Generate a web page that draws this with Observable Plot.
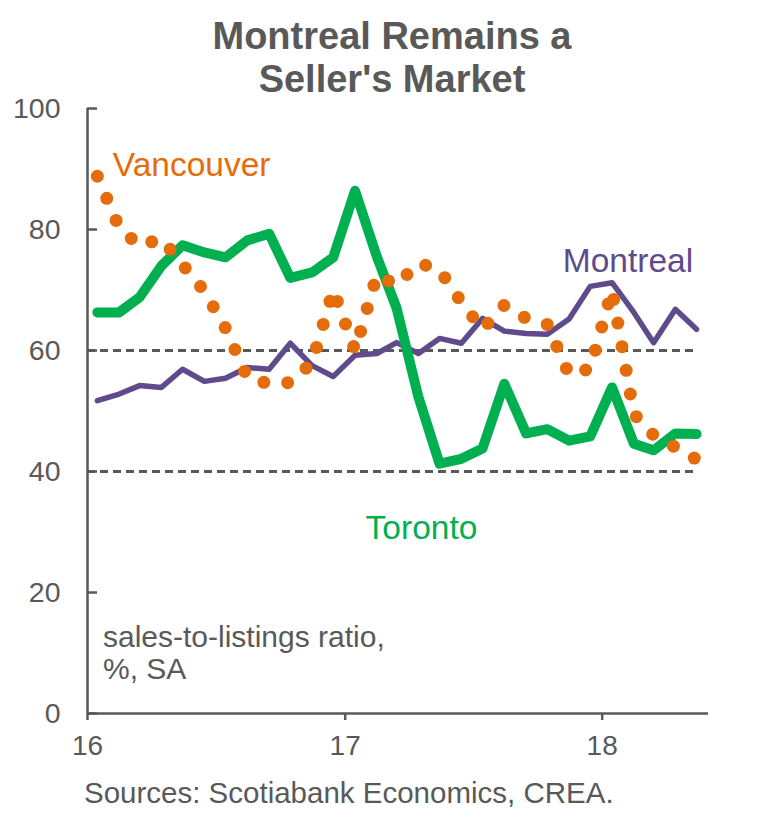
<!DOCTYPE html>
<html>
<head>
<meta charset="utf-8">
<script src="https://cdn.jsdelivr.net/npm/d3@7"></script>
<script src="https://cdn.jsdelivr.net/npm/@observablehq/plot@0.6"></script>
<style>
  html, body { margin: 0; padding: 0; background: #fff; }
  #wrap { position: relative; width: 780px; height: 815px; font-family: "Liberation Sans", Arial, sans-serif; color: #595959; }
  #chart { position: absolute; left: 0; top: 0; }
  #title { position: absolute; left: 0; top: 15px; width: 784px; text-align: center; font-weight: bold; font-size: 38px; line-height: 43px; }
  #note { position: absolute; left: 103px; top: 621px; font-size: 30px; line-height: 32px; }
  #source { position: absolute; left: 84px; top: 777px; font-size: 29.5px; line-height: 32px; }
</style>
</head>
<body>
<div id="wrap">
  <div id="chart"></div>
  <div id="title">Montreal Remains a<br>Seller's Market</div>
  <div id="note">sales-to-listings ratio,<br>%, SA</div>
  <div id="source">Sources: Scotiabank Economics, CREA.</div>
</div>
<script>
const months = ["2016-01","2016-02","2016-03","2016-04","2016-05","2016-06","2016-07","2016-08","2016-09","2016-10","2016-11","2016-12",
                "2017-01","2017-02","2017-03","2017-04","2017-05","2017-06","2017-07","2017-08","2017-09","2017-10","2017-11","2017-12",
                "2018-01","2018-02","2018-03","2018-04","2018-05"];
const toronto   = [66.3,66.3,68.8,74.0,77.4,76.2,75.4,78.2,79.3,72.0,72.9,75.4,86.4,75.5,67.0,52.3,41.3,42.1,43.8,54.5,46.3,47.0,45.1,45.8,53.9,44.6,43.5,46.3,46.2];
const montreal  = [51.7,52.8,54.2,53.9,56.9,54.9,55.4,57.2,56.9,61.2,57.5,55.7,59.2,59.5,61.3,59.5,62.0,61.2,65.3,63.2,62.8,62.7,65.2,70.6,71.2,66.3,61.3,66.8,63.5];
const vancouver = [88.8,80.3,77.3,78.5,74.2,69.8,63.7,55.5,54.5,54.7,58.0,70.0,60.0,72.5,70.8,74.5,73.3,68.0,63.5,67.5,65.3,64.3,56.0,57.0,70.0,49.5,46.0,44.0,42.0];
const seriesNames = ["Toronto", "Montreal", "Vancouver"];
const yTicks = [0, 20, 40, 60, 80, 100];
const xTickLabels = ["16", "17", "18"];
const refLevels = [40, 60];
const labelNames = ["Vancouver", "Montreal", "Toronto"];
const labelDates = ["2016-02-06", "2017-11-06", "2017-01-30"];
const labelValues = [90.6, 74.7, 30.6];

const toDate = (m) => new Date(m + "-15T00:00:00Z");
const dates = months.map(toDate);
const xStart = new Date("2016-01-01T00:00:00Z");
const xEnd = new Date("2018-06-01T00:00:00Z");
const xTicks = xTickLabels.map(s => new Date(`20${s}-01-01T00:00:00Z`));

const colors = {Toronto: "#00b050", Montreal: "#5f4b8b", Vancouver: "#e46c0a"};
const values = {Toronto: toronto, Montreal: montreal, Vancouver: vancouver};
const rows = s => dates.map((d, i) => ({date: d, value: values[s][i]}));
const gray = "#595959";

const labelRows = labelNames.map((n, i) => ({name: n, date: new Date(labelDates[i] + "T00:00:00Z"), value: labelValues[i]}));

const chart = Plot.plot({
  width: 780,
  height: 815,
  marginTop: 108,
  marginBottom: 102,
  marginLeft: 87,
  marginRight: 72,
  style: {fontFamily: '"Liberation Sans", Arial, sans-serif', background: "transparent", color: gray, overflow: "visible"},
  x: {type: "utc", domain: [xStart, xEnd], label: null},
  y: {domain: [0, 100], label: null},
  marks: [
    Plot.ruleY(refLevels, {x1: () => xStart, x2: () => dates[dates.length - 1], stroke: gray, strokeWidth: 3, strokeDasharray: "8,5"}),
    Plot.axisY({ticks: yTicks, tickSize: 0, tickPadding: 27, fontSize: 28.5, fill: gray, label: null}),
    Plot.axisY({ticks: yTicks, tickSize: 10, dx: 10, tickFormat: () => "", stroke: gray, strokeWidth: 2.5, label: null}),
    Plot.axisX({ticks: xTicks, tickSize: 7, tickPadding: 15, fontSize: 28, fill: gray, stroke: gray, strokeWidth: 2.5, tickFormat: d3.utcFormat("%y"), label: null}),
    Plot.ruleX([xStart], {stroke: gray, strokeWidth: 2.5}),
    Plot.ruleY([0], {stroke: gray, strokeWidth: 2.5}),
    Plot.line(rows("Montreal"), {x: "date", y: "value", stroke: colors.Montreal, strokeWidth: 5.5, strokeLinejoin: "round", strokeLinecap: "round"}),
    Plot.line(rows("Toronto"), {x: "date", y: "value", stroke: colors.Toronto, strokeWidth: 10, strokeLinejoin: "round", strokeLinecap: "round"}),
    Plot.line(rows("Vancouver"), {x: "date", y: "value", stroke: colors.Vancouver, strokeWidth: 13, strokeDasharray: "0,24", strokeLinecap: "round", strokeLinejoin: "round"}),
    ...labelRows.map(r => Plot.text([r], {x: "date", y: "value", text: "name", fill: colors[r.name], textAnchor: "start", fontSize: 33.5}))
  ]
});
document.getElementById("chart").appendChild(chart);
</script>
</body>
</html>
